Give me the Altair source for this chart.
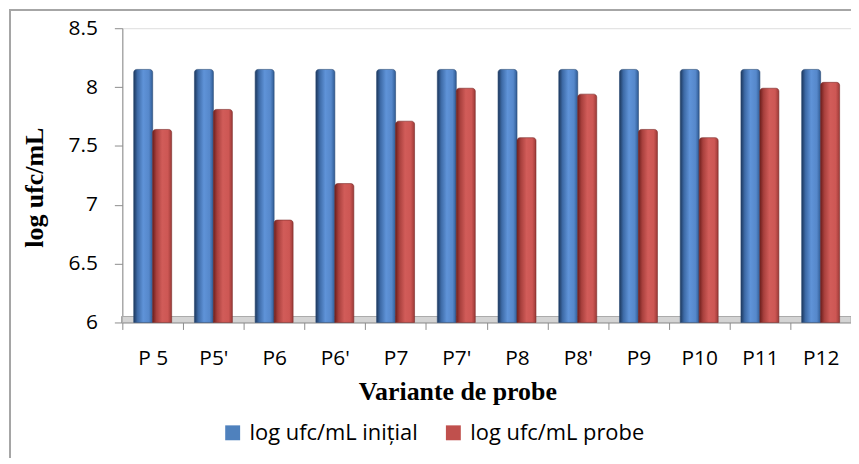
import altair as alt
import pandas as pd

categories = ["P 5", "P5'", "P6", "P6'", "P7", "P7'", "P8", "P8'", "P9", "P10", "P11", "P12"]
initial = [8.15, 8.15, 8.15, 8.15, 8.15, 8.15, 8.15, 8.15, 8.15, 8.15, 8.15, 8.15]
probe = [7.64, 7.81, 6.87, 7.18, 7.71, 7.99, 7.57, 7.94, 7.64, 7.57, 7.99, 8.04]
series = ["log ufc/mL inițial", "log ufc/mL probe"]

rows = []
for c, a, b in zip(categories, initial, probe):
    rows.append({"proba": c, "serie": series[0], "val": a})
    rows.append({"proba": c, "serie": series[1], "val": b})
df = pd.DataFrame(rows)

W, H = 733, 296
label_font = "Open Sans"
title_font = "Liberation Serif"

blue_grad = alt.LinearGradient(
    gradient="linear", x1=0, x2=1, y1=0, y2=0,
    stops=[
        alt.GradientStop(color="#1c375c", offset=0),
        alt.GradientStop(color="#3d6aa6", offset=0.2),
        alt.GradientStop(color="#5f93d8", offset=0.5),
        alt.GradientStop(color="#5688cb", offset=0.8),
        alt.GradientStop(color="#2f5b94", offset=1),
    ],
)
red_grad = alt.LinearGradient(
    gradient="linear", x1=0, x2=1, y1=0, y2=0,
    stops=[
        alt.GradientStop(color="#6e1f1d", offset=0),
        alt.GradientStop(color="#a8403d", offset=0.2),
        alt.GradientStop(color="#d15c59", offset=0.5),
        alt.GradientStop(color="#cd5754", offset=0.8),
        alt.GradientStop(color="#9c3a37", offset=1),
    ],
)

base = alt.Chart(df)

x_enc = alt.X(
    "proba:N", sort=categories,
    scale=alt.Scale(paddingInner=0, paddingOuter=0),
    axis=alt.Axis(
        title="Variante de probe", labelAngle=0, tickBand="extent",
        domainColor="#8c8c8c", tickColor="#8c8c8c", tickSize=7,
        labelFont=label_font, labelFontSize=21, labelColor="black", labelPadding=18,
        titleFont=title_font, titleFontSize=26, titleFontWeight="bold", titleColor="black",
        titleX=337, titleY=69, titleBaseline="middle", titleAlign="center",
    ),
)
y_enc = alt.Y(
    "val:Q",
    scale=alt.Scale(domain=[6, 8.5], zero=False, nice=False),
    axis=alt.Axis(
        title="log ufc/mL", values=[6, 6.5, 7, 7.5, 8, 8.5], format=".1~f", grid=False,
        domainColor="#8c8c8c", tickColor="#8c8c8c", tickSize=8,
        labelFont=label_font, labelFontSize=21, labelColor="black", labelPadding=17,
        titleFont=title_font, titleFontSize=26, titleFontWeight="bold", titleColor="black",
        titleX=-88, titleY=160, titleBaseline="middle", titleAlign="center", titleAngle=270,
    ),
)
xoff = alt.XOffset("serie:N", scale=alt.Scale(domain=series, paddingInner=0, paddingOuter=0.6))

frame = base.mark_rect(fill=None, stroke="#a6a6a6", strokeWidth=1.5).encode(
    x=alt.value(-113), x2=alt.value(760), y=alt.value(-18), y2=alt.value(460)
)

floor = base.mark_rect(fill="#d4d4d4", stroke="#a6a6a6", strokeWidth=0.8).encode(
    x=alt.value(0), x2=alt.value(W), y=alt.value(H - 6), y2=alt.value(H)
)

bars_a = base.transform_filter(alt.datum.serie == series[0]).mark_bar(
    fill=blue_grad, stroke="#2a4a75", strokeWidth=0.6, cornerRadiusTopLeft=3, cornerRadiusTopRight=3
).encode(x=x_enc, xOffset=xoff, y=y_enc, y2=alt.datum(6))

bars_b = base.transform_filter(alt.datum.serie == series[1]).mark_bar(
    fill=red_grad, stroke="#7a2a28", strokeWidth=0.6, cornerRadiusTopLeft=3, cornerRadiusTopRight=3
).encode(x=x_enc, xOffset=xoff, y=y_enc, y2=alt.datum(6))

legend_layer = base.mark_square(opacity=0, size=1).encode(
    x=x_enc, y=y_enc,
    color=alt.Color(
        "serie:N",
        scale=alt.Scale(domain=series, range=["#4f81bd", "#c0504d"]),
        legend=alt.Legend(
            title=None, orient="none", direction="horizontal", legendX=100, legendY=396,
            symbolType="square", symbolSize=225, symbolOpacity=1, symbolStrokeWidth=0,
            labelFont=label_font, labelFontSize=22, labelColor="black",
            labelOffset=6, columnPadding=24, padding=0, labelLimit=400,
        ),
    ),
)

chart = alt.layer(frame, floor, bars_a, bars_b, legend_layer).properties(
    width=W, height=H,
    autosize=alt.AutoSizeParams(type="none"),
    padding={"left": 115, "top": 19, "right": 0, "bottom": 135},
).configure_view(stroke=None).configure(background="white")

chart.save("out.html", embed_options={"renderer": "svg", "actions": False})
